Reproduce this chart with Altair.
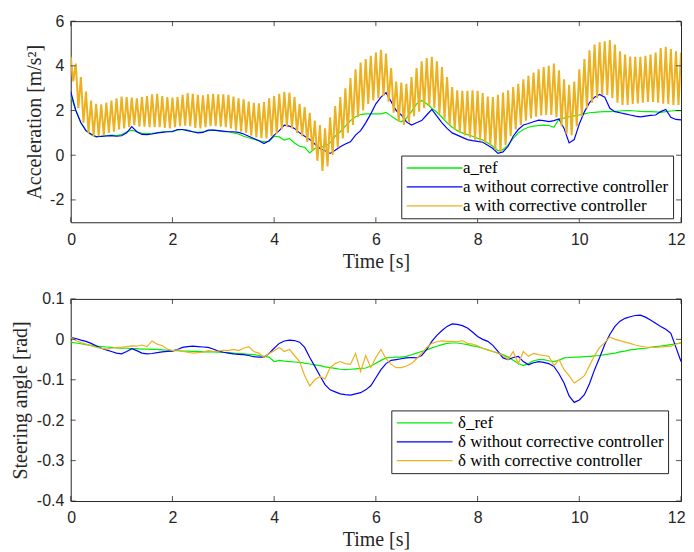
import altair as alt
import pandas as pd

# ---------------- data ----------------
T = [round(i * 0.1, 2) for i in range(121)]          # 0 .. 12 s
T_LO = [round(0.05 + i * 0.1, 2) for i in range(120)]  # 0.05 .. 11.95 s

A_REF = [2.70, 2.00, 1.45, 1.10, 0.92, 0.82, 0.85, 0.88, 0.90, 0.88,
         0.92, 1.05, 1.12, 1.05, 0.98, 0.97, 0.98, 1.00, 1.05, 1.05,
         1.08, 1.12, 1.15, 1.12, 1.05, 1.02, 1.05, 1.10, 1.12, 1.10,
         1.05, 1.05, 1.00, 0.95, 0.85, 0.78, 0.72, 0.65, 0.60, 0.62,
         0.85, 0.82, 0.68, 0.75, 0.55, 0.40, 0.35, 0.10, 0.30, 0.35,
         0.40, 0.55, 0.85, 1.05, 1.30, 1.55, 1.72, 1.82, 1.85, 1.85,
         1.85, 1.85, 1.92, 1.75, 1.60, 1.50, 1.65, 1.95, 2.30, 2.45,
         2.30, 2.10, 1.92, 1.70, 1.45, 1.25, 1.10, 1.00, 0.92, 0.85,
         0.76, 0.68, 0.55, 0.40, 0.20, 0.25, 0.45, 0.75, 1.00, 1.15,
         1.25, 1.30, 1.33, 1.35, 1.33, 1.25, 1.62, 1.66, 1.72, 1.76,
         1.80, 1.85, 1.90, 1.92, 1.94, 1.95, 1.95, 1.96, 1.98, 2.00,
         2.00, 1.98, 1.96, 1.95, 1.95, 1.94, 1.92, 1.95, 1.98, 2.00,
         2.00]

A_NO = [2.84, 2.00, 1.45, 1.10, 0.95, 0.83, 0.84, 0.86, 0.88, 0.85,
        0.87, 1.00, 1.28, 1.05, 0.93, 0.92, 0.95, 1.00, 1.02, 1.05,
        1.05, 1.15, 1.15, 1.10, 1.05, 1.00, 1.02, 1.12, 1.12, 1.10,
        1.08, 1.05, 1.05, 1.02, 0.95, 0.85, 0.75, 0.65, 0.52, 0.65,
        0.90, 1.10, 1.35, 1.30, 1.20, 1.00, 0.85, 0.70, 0.50, 0.30,
        0.20, 0.08, 0.22, 0.38, 0.50, 0.60, 0.90, 1.10, 1.45, 1.85,
        2.30, 2.60, 2.80, 2.40, 2.00, 1.80, 1.50, 1.35, 1.45, 1.55,
        1.80, 2.05, 1.75, 1.45, 1.20, 1.00, 0.90, 0.80, 0.70, 0.65,
        0.62, 0.58, 0.45, 0.30, 0.08, 0.15, 0.40, 0.85, 1.15, 1.35,
        1.42, 1.50, 1.57, 1.55, 1.50, 1.55, 1.62, 1.20, 0.55, 0.70,
        1.40, 1.94, 2.35, 2.60, 2.72, 2.60, 2.10, 1.95, 1.90, 1.85,
        1.80, 1.75, 1.72, 1.75, 1.78, 1.80, 1.95, 2.05, 1.70, 1.60,
        1.58]

# with corrective controller: fast oscillation, upper peaks at T, lower troughs at T_LO
A_CC_HI = [4.40, 4.10, 3.50, 2.85, 2.45, 2.30, 2.28, 2.35, 2.45, 2.55,
           2.62, 2.60, 2.58, 2.55, 2.60, 2.65, 2.72, 2.75, 2.65, 2.60,
           2.58, 2.60, 2.70, 2.78, 2.75, 2.70, 2.68, 2.72, 2.75, 2.72,
           2.72, 2.70, 2.62, 2.55, 2.50, 2.40, 2.35, 2.32, 2.38, 2.55,
           2.65, 2.75, 2.84, 2.80, 2.60, 2.30, 2.15, 1.90, 1.55, 1.35,
           1.20, 1.70, 2.20, 2.60, 3.00, 3.45, 3.85, 4.15, 4.30, 4.45,
           4.60, 4.72, 4.55, 3.90, 3.30, 3.25, 3.20, 3.50, 3.90, 4.20,
           4.35, 4.40, 4.20, 3.95, 3.50, 3.05, 2.90, 2.88, 2.88, 2.90,
           2.88, 2.78, 2.62, 2.60, 2.70, 2.80, 2.90, 3.05, 3.20, 3.40,
           3.55, 3.70, 3.85, 3.95, 4.00, 4.10, 3.80, 3.40, 3.15, 3.30,
           3.85, 4.30, 4.70, 4.95, 5.05, 5.10, 5.15, 4.95, 4.65, 4.50,
           4.42, 4.40, 4.40, 4.45, 4.50, 4.60, 4.80, 4.85, 4.75, 4.65,
           4.60]

A_CC_LO = [3.30, 2.10, 1.45, 1.00, 0.85, 0.85, 0.90, 1.00, 1.05, 1.15,
           1.20, 1.25, 1.35, 1.28, 1.28, 1.25, 1.25, 1.25, 1.22, 1.20,
           1.25, 1.30, 1.32, 1.30, 1.22, 1.20, 1.25, 1.30, 1.30, 1.28,
           1.25, 1.20, 1.10, 1.05, 1.00, 0.88, 0.80, 0.76, 0.75, 0.85,
           0.95, 1.15, 1.30, 1.20, 1.00, 0.85, 0.60, 0.20, -0.25, -0.70,
           -0.50, 0.00, 0.35, 0.75, 1.00, 1.35, 1.70, 2.00, 2.30, 2.45,
           2.55, 2.65, 2.40, 1.90, 1.50, 1.35, 1.45, 1.75, 1.95, 2.10,
           2.20, 2.10, 1.85, 1.60, 1.35, 1.15, 1.00, 0.88, 0.80, 0.70,
           0.65, 0.55, 0.45, 0.25, 0.15, 0.45, 0.85, 1.15, 1.35, 1.55,
           1.65, 1.72, 1.78, 1.80, 1.80, 1.70, 1.30, 0.95, 0.90, 1.30,
           1.75, 2.10, 2.35, 2.55, 2.70, 2.70, 2.55, 2.35, 2.25, 2.25,
           2.30, 2.32, 2.35, 2.38, 2.38, 2.35, 2.30, 2.28, 2.25, 2.25]

D_REF = [-0.007, -0.009, -0.011, -0.013, -0.015, -0.017, -0.018, -0.019, -0.020, -0.021,
         -0.022, -0.022, -0.023, -0.023, -0.024, -0.024, -0.025, -0.025, -0.026, -0.027,
         -0.028, -0.028, -0.029, -0.029, -0.030, -0.030, -0.031, -0.031, -0.031, -0.032,
         -0.032, -0.033, -0.034, -0.035, -0.036, -0.037, -0.038, -0.040, -0.042, -0.044,
         -0.055, -0.052, -0.054, -0.055, -0.056, -0.057, -0.059, -0.061, -0.063, -0.065,
         -0.068, -0.070, -0.072, -0.074, -0.075, -0.074, -0.073, -0.072, -0.071, -0.066,
         -0.059, -0.052, -0.046, -0.045, -0.044, -0.044, -0.042, -0.038, -0.034, -0.030,
         -0.026, -0.021, -0.017, -0.013, -0.010, -0.009, -0.009, -0.011, -0.013, -0.016,
         -0.018, -0.022, -0.026, -0.030, -0.034, -0.038, -0.044, -0.052, -0.060, -0.065,
         -0.060, -0.053, -0.050, -0.050, -0.053, -0.055, -0.052, -0.046, -0.045, -0.044,
         -0.044, -0.043, -0.042, -0.041, -0.040, -0.038, -0.036, -0.034, -0.031, -0.029,
         -0.026, -0.025, -0.023, -0.022, -0.020, -0.018, -0.017, -0.015, -0.013, -0.011,
         -0.009]

D_NO = [0.005, 0.002, -0.002, -0.005, -0.010, -0.016, -0.022, -0.026, -0.030, -0.034,
        -0.036, -0.030, -0.023, -0.028, -0.034, -0.036, -0.035, -0.033, -0.031, -0.030,
        -0.029, -0.025, -0.020, -0.018, -0.017, -0.018, -0.019, -0.020, -0.024, -0.029,
        -0.032, -0.034, -0.036, -0.037, -0.038, -0.040, -0.043, -0.044, -0.044, -0.035,
        -0.022, -0.010, -0.004, -0.002, -0.003, -0.007, -0.020, -0.045, -0.067, -0.090,
        -0.112, -0.125, -0.130, -0.135, -0.137, -0.138, -0.135, -0.132, -0.125, -0.115,
        -0.095, -0.075, -0.060, -0.052, -0.050, -0.048, -0.046, -0.045, -0.046, -0.040,
        -0.025, -0.005, 0.010, 0.022, 0.032, 0.038, 0.037, 0.034, 0.028, 0.018,
        0.007, 0.000, -0.005, -0.015, -0.030, -0.046, -0.050, -0.045, -0.042, -0.055,
        -0.063, -0.058, -0.055, -0.057, -0.060, -0.067, -0.085, -0.108, -0.140, -0.156,
        -0.150, -0.137, -0.110, -0.075, -0.045, -0.013, 0.012, 0.032, 0.045, 0.052,
        0.056, 0.059, 0.060, 0.055, 0.048, 0.040, 0.032, 0.025, 0.015, -0.020,
        -0.055]

D_CC = [0.005, -0.003, -0.008, -0.012, -0.016, -0.020, -0.022, -0.024, -0.022, -0.020,
        -0.020, -0.018, -0.016, -0.017, -0.014, -0.018, -0.004, -0.012, -0.016, -0.024,
        -0.028, -0.026, -0.030, -0.032, -0.034, -0.033, -0.032, -0.028, -0.030, -0.029,
        -0.027, -0.028, -0.025, -0.028, -0.022, -0.018, -0.030, -0.034, -0.045, -0.035,
        -0.028, -0.020, -0.030, -0.025, -0.040, -0.055, -0.090, -0.115, -0.100, -0.092,
        -0.098, -0.070, -0.060, -0.055, -0.060, -0.062, -0.035, -0.080, -0.040, -0.070,
        -0.045, -0.025, -0.048, -0.062, -0.070, -0.070, -0.066, -0.060, -0.048, -0.035,
        -0.020, -0.010, -0.006, -0.004, -0.005, -0.005, -0.006, -0.003, -0.010, -0.012,
        -0.016, -0.022, -0.026, -0.030, -0.034, -0.040, -0.050, -0.030, -0.060, -0.030,
        -0.042, -0.035, -0.038, -0.040, -0.042, -0.065, -0.050, -0.075, -0.090, -0.108,
        -0.100, -0.090, -0.065, -0.040, -0.020, -0.008, 0.006, 0.000, -0.003, -0.007,
        -0.010, -0.014, -0.017, -0.019, -0.020, -0.020, -0.019, -0.018, -0.017, -0.012,
        -0.008]

X_TICKS = [0, 2, 4, 6, 8, 10, 12]
A_TICKS = [-2, 0, 2, 4, 6]
D_TICKS = [0.1, 0, -0.1, -0.2, -0.3, -0.4]

A_NAMES = ["a_ref", "a without corrective controller", "a with corrective controller"]
D_NAMES = ["\u03b4_ref", "\u03b4 without corrective controller", "\u03b4 with corrective controller"]
COLORS = ["#00ee00", "#0000ff", "#edb120"]

# ---------------- tables ----------------
top_rows = []
top_rows += [{"t": t, "v": v, "series": A_NAMES[0]} for t, v in zip(T, A_REF)]
top_rows += [{"t": t, "v": v, "series": A_NAMES[1]} for t, v in zip(T, A_NO)]
cc = [{"t": t, "v": v, "series": A_NAMES[2]} for t, v in zip(T, A_CC_HI)]
cc += [{"t": t, "v": v, "series": A_NAMES[2]} for t, v in zip(T_LO, A_CC_LO)]
top_rows += sorted(cc, key=lambda r: r["t"])
top_df = pd.DataFrame(top_rows)

bot_rows = []
bot_rows += [{"t": t, "v": v, "series": D_NAMES[0]} for t, v in zip(T, D_REF)]
bot_rows += [{"t": t, "v": v, "series": D_NAMES[1]} for t, v in zip(T, D_NO)]
bot_rows += [{"t": t, "v": v, "series": D_NAMES[2]} for t, v in zip(T, D_CC)]
bot_df = pd.DataFrame(bot_rows)

AX = "#262626"
W = 613
LABEL_EXPR = "replace(format(datum.value, '~g'), '\u2212', '-')"


def panel(df, names, ydom, yticks, ytitle, H, lx, ly, lab_off, widths):
    xs = alt.Scale(domain=[0, 12], nice=False, zero=False)
    ys = alt.Scale(domain=ydom, nice=False, zero=False)
    xax = alt.Axis(values=X_TICKS, title="Time [s]", labelExpr=LABEL_EXPR,
                   labelFlush=True, labelFlushOffset=4)
    yax = alt.Axis(values=yticks, title=ytitle, labelExpr=LABEL_EXPR)
    col = alt.Color(
        "series:N",
        scale=alt.Scale(domain=names, range=COLORS),
        legend=alt.Legend(
            orient="none", legendX=lx, legendY=ly, title=None,
            symbolType="M-8,0L8,0", symbolSize=49, symbolStrokeWidth=1.3,
            symbolOffset=21, labelOffset=lab_off,
            labelFont="Liberation Serif", labelFontSize=17, labelColor="#000000",
            strokeColor=AX, fillColor="white", padding=4, rowPadding=1,
            labelLimit=500,
        ),
    )
    layers = []
    for name, w in zip(names, widths):
        layers.append(
            alt.Chart(df)
            .transform_filter(alt.datum.series == name)
            .mark_line(clip=True, strokeWidth=w)
            .encode(
                x=alt.X("t:Q", scale=xs, axis=xax),
                y=alt.Y("v:Q", scale=ys, axis=yax),
                color=col,
                order="t:Q",
            )
        )
    ydf = pd.DataFrame({"v": yticks})
    xdf = pd.DataFrame({"t": X_TICKS})
    tick = dict(color=AX, strokeWidth=0.8)
    layers.append(alt.Chart(ydf).mark_rule(**tick).encode(
        y=alt.Y("v:Q", scale=ys, axis=yax), x=alt.value(0), x2=alt.value(5)))
    layers.append(alt.Chart(ydf).mark_rule(**tick).encode(
        y=alt.Y("v:Q", scale=ys, axis=yax), x=alt.value(W - 5), x2=alt.value(W)))
    layers.append(alt.Chart(xdf).mark_rule(**tick).encode(
        x=alt.X("t:Q", scale=xs, axis=xax), y=alt.value(H - 5), y2=alt.value(H)))
    layers.append(alt.Chart(xdf).mark_rule(**tick).encode(
        x=alt.X("t:Q", scale=xs, axis=xax), y=alt.value(0), y2=alt.value(5)))
    return alt.layer(*layers).properties(width=W, height=H)


top = panel(top_df, A_NAMES, [-3, 6], A_TICKS, "Acceleration [m/s\u00b2]", 202, 332, 135, 20,
            [1.2, 1.2, 2.0])
bottom = panel(bot_df, D_NAMES, [-0.4, 0.1], D_TICKS, "Steering angle [rad]", 203, 322, 112, 25,
               [1.2, 1.2, 1.2])

chart = (
    alt.vconcat(top, bottom, spacing=18)
    .resolve_scale(color="independent", x="independent", y="independent")
    .resolve_legend(color="independent")
    .properties(padding={"left": 2, "top": 3, "right": 0, "bottom": 0})
    .configure_view(stroke=AX, strokeWidth=1)
    .configure_axis(
        labelFont="Liberation Sans", labelFontSize=16, labelColor=AX,
        titleFont="Liberation Serif", titleFontSize=20, titleFontWeight="normal",
        titleColor=AX, ticks=False, domain=False, grid=False,
    )
    .configure_axisX(labelPadding=9, titlePadding=4)
    .configure_axisY(labelPadding=7, titlePadding=5.5)
)

chart.save("out.html", embed_options={"renderer": "svg", "actions": False})
